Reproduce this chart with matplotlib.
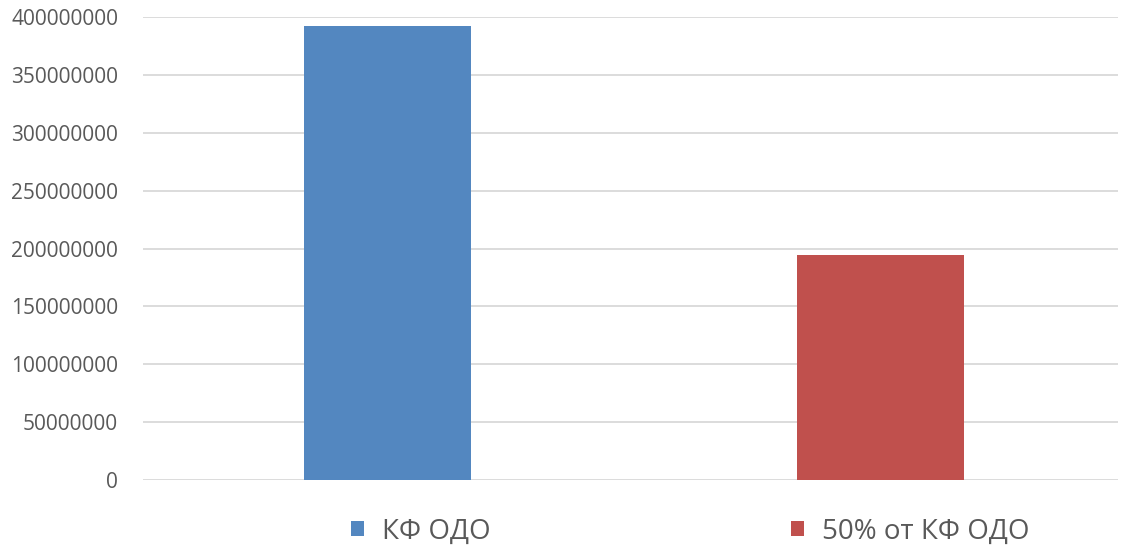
import matplotlib.pyplot as plt
import numpy as np

# data
series_names = ["КФ ОДО", "50% от КФ ОДО"]
series_values = [392000000, 194500000]
series_colors = ["#5387C0", "#C0504D"]
y_ticks = np.arange(0, 400000001, 50000000)

plt.rcParams['font.family'] = ['Open Sans', 'DejaVu Sans']

fig = plt.figure(figsize=(11.22, 5.47), dpi=100)
ax = fig.add_axes([0.1275, 0.1225, 0.869, 0.8464])

x = np.arange(len(series_values))
for i in range(len(series_values)):
    ax.bar(x[i], series_values[i], 0.339, color=series_colors[i], label=series_names[i], zorder=3)

ax.set_xlim(-0.496, 1.482)
ax.set_ylim(0, 400000000)
ax.set_yticks(y_ticks)
ax.set_yticklabels([str(int(v)) for v in y_ticks])
ax.set_xticks([])
ax.yaxis.grid(color='#D9D9D9', linestyle='-', linewidth=1.3, zorder=0)
ax.tick_params(axis='y', length=0, pad=18, labelsize=15, labelcolor='#595959')
for s in ax.spines.values():
    s.set_visible(False)

fig.legend(loc='center', bbox_to_anchor=(0.615, 0.028), ncol=2, frameon=False,
           fontsize=20, labelcolor='#595959', handlelength=0.47, handleheight=0.47,
           handletextpad=0.65, columnspacing=10.8)

fig.savefig("out.png", dpi=100)
